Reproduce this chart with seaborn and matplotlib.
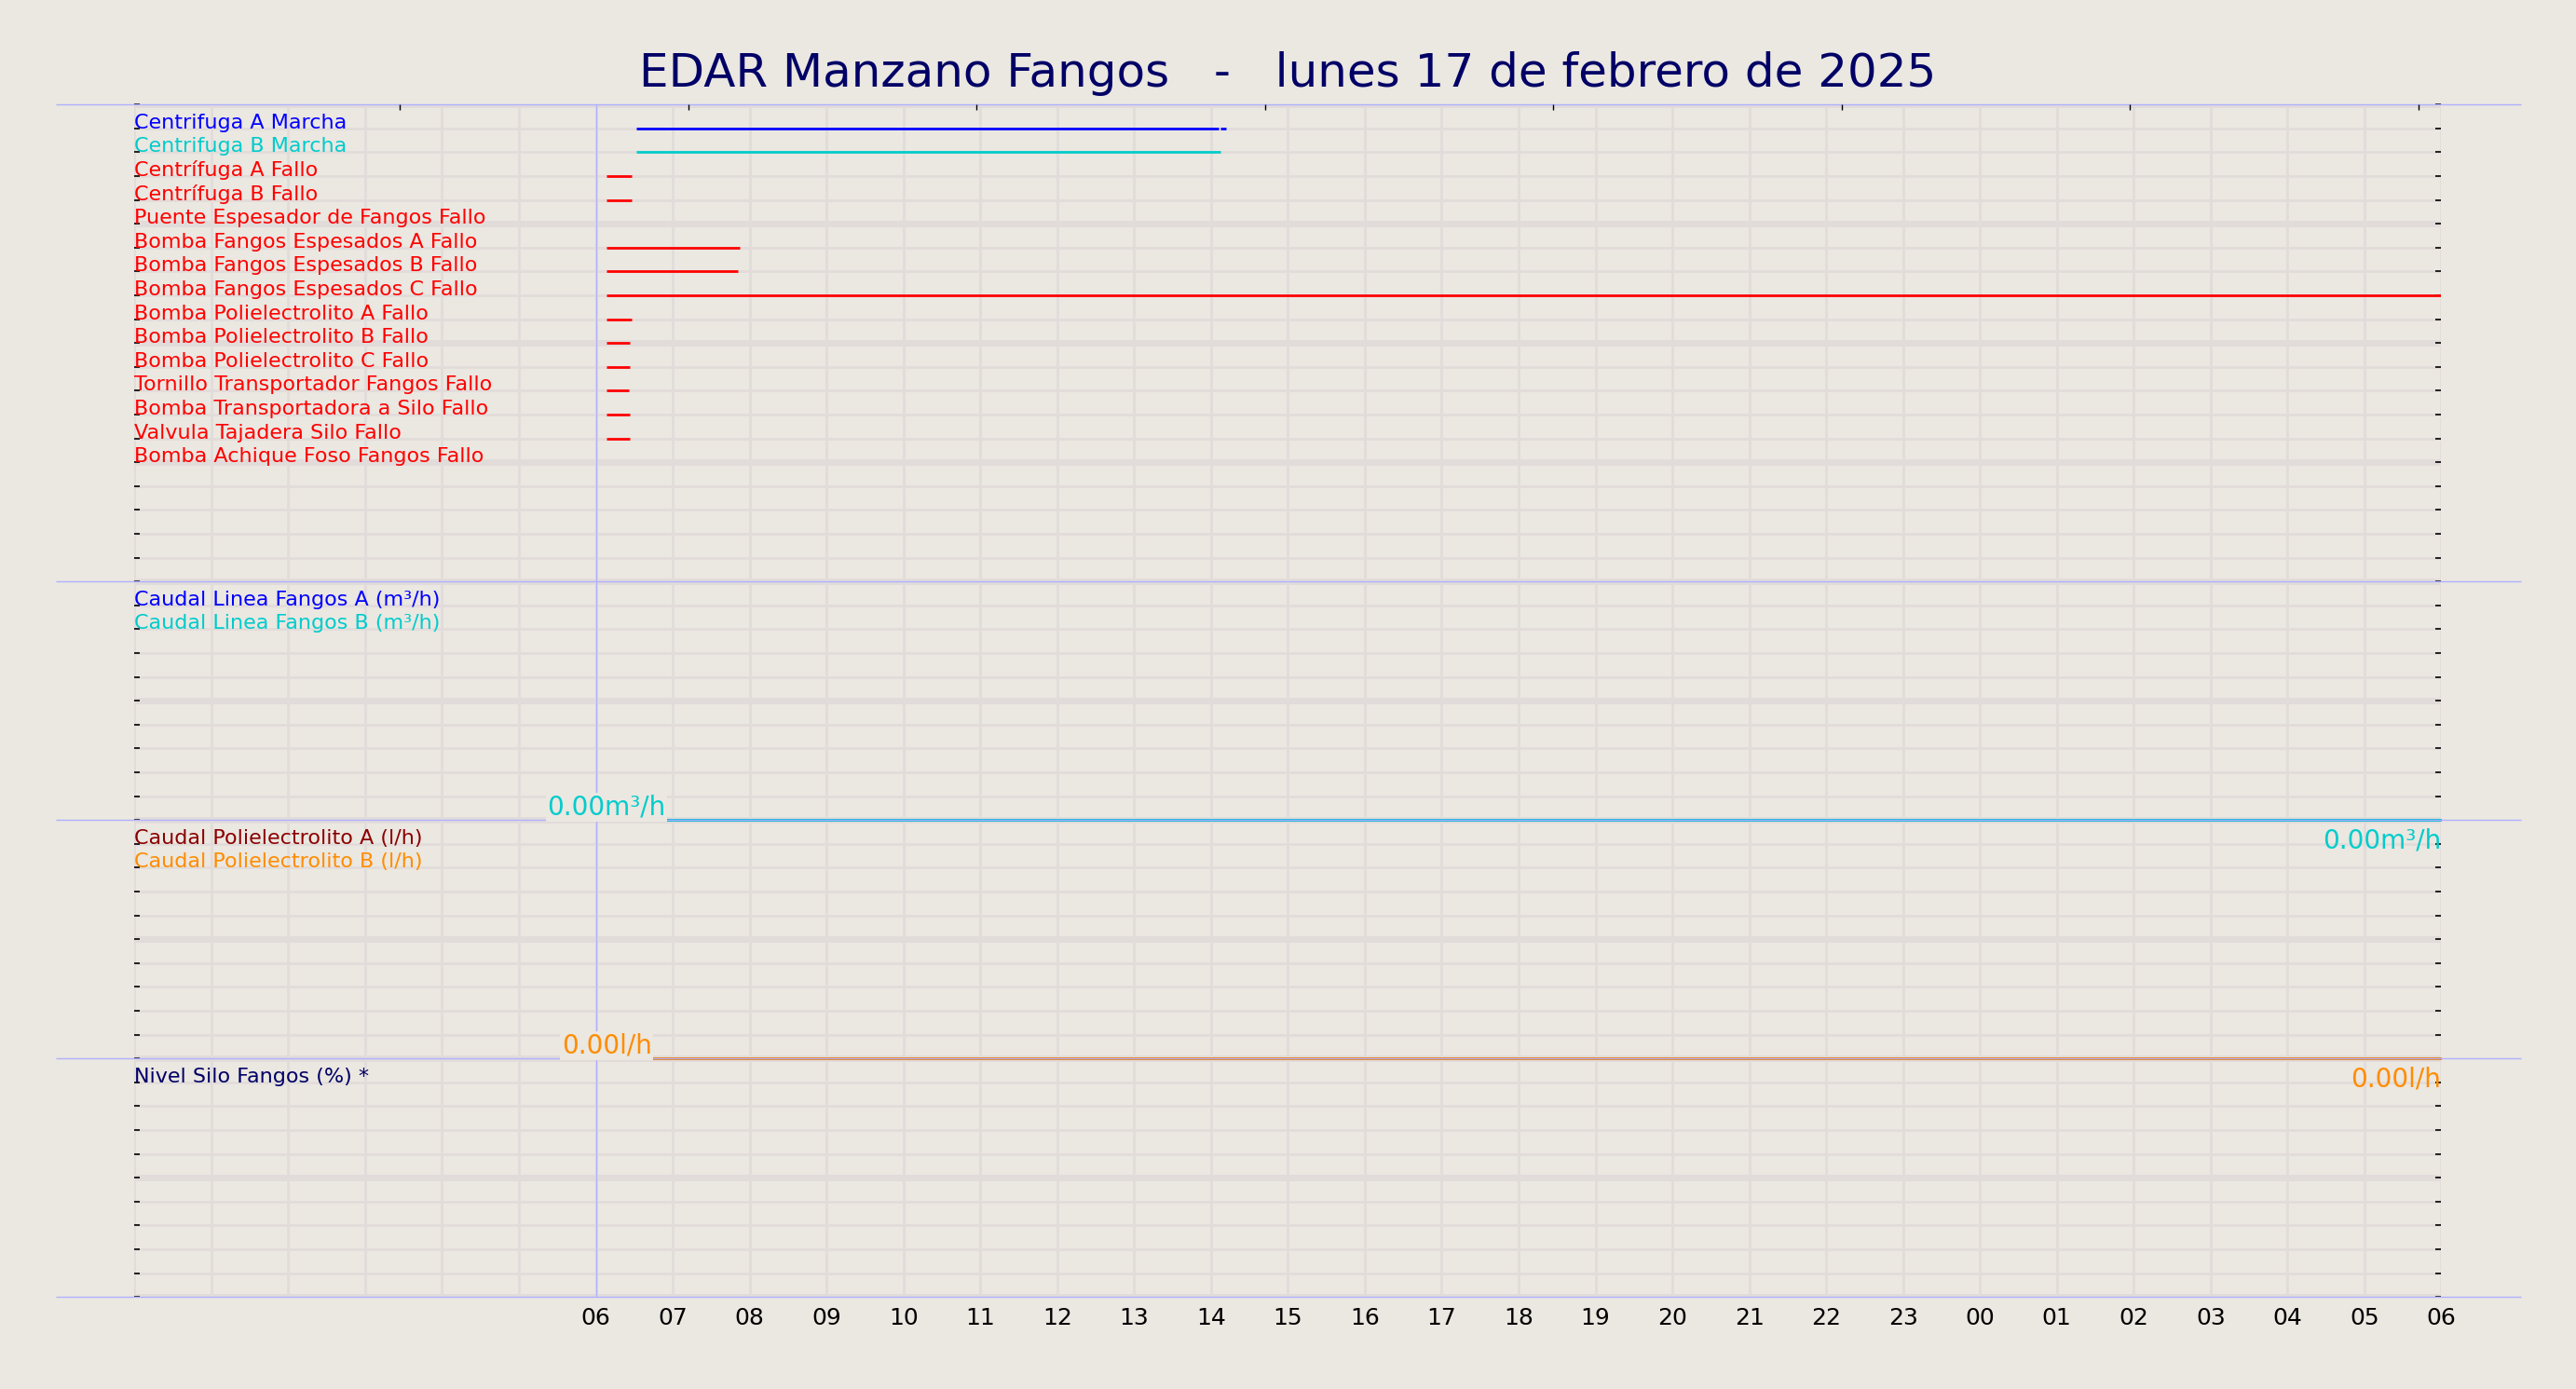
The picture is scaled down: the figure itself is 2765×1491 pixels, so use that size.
import pandas as pd
import matplotlib
matplotlib.use("Agg")
import matplotlib.pyplot as plt
from matplotlib.ticker import MultipleLocator
import seaborn as sns

FONDO = "#ebe7e1"
REJILLA = "#e1dcda"
SEPARADOR = "#b0b0ff"
AZUL_TITULO = "#000066"

TITULO = "EDAR Manzano Fangos   -   lunes 17 de febrero de 2025"

# eje x: horas desde las 00:00 del 17/02 hasta las 06:00 del 18/02
horas_eje = list(range(0, 31))
etiquetas_eje = ["" if h < 6 else f"{h % 24:02d}" for h in horas_eje]

# señales digitales del panel superior (una fila cada una)
senales = [
    "Centrifuga A Marcha",
    "Centrifuga B Marcha",
    "Centrífuga A Fallo",
    "Centrífuga B Fallo",
    "Puente Espesador de Fangos Fallo",
    "Bomba Fangos Espesados A Fallo",
    "Bomba Fangos Espesados B Fallo",
    "Bomba Fangos Espesados C Fallo",
    "Bomba Polielectrolito A Fallo",
    "Bomba Polielectrolito B Fallo",
    "Bomba Polielectrolito C Fallo",
    "Tornillo Transportador Fangos Fallo",
    "Bomba Transportadora a Silo Fallo",
    "Valvula Tajadera Silo Fallo",
    "Bomba Achique Foso Fangos Fallo",
]
colores_senales = ["#0000ff", "#00cccc"] + ["#ff0000"] * 13

# tramos activos de cada señal (indice de señal, hora inicio, hora fin)
tramo_senal = [0, 0, 1, 2, 3, 5, 6, 7, 8, 9, 10, 11, 12, 13]
tramo_inicio = [6.53, 14.12, 6.53, 6.14, 6.14, 6.14, 6.14, 6.14, 6.14, 6.14, 6.14, 6.14, 6.14, 6.14]
tramo_fin = [14.10, 14.19, 14.12, 6.47, 6.47, 7.87, 7.85, 30.0, 6.47, 6.44, 6.44, 6.43, 6.44, 6.44]

# señales analogicas
horas_caudal = [6.14, 30.0]
caudal_linea_a = [0.0, 0.0]
caudal_linea_b = [0.0, 0.0]
caudal_poli_a = [0.0, 0.0]
caudal_poli_b = [0.0, 0.0]

paneles = [
    (["Caudal Linea Fangos A (m³/h)", "Caudal Linea Fangos B (m³/h)"],
     ["#0000ff", "#00cccc"], [caudal_linea_a, caudal_linea_b], "m³/h"),
    (["Caudal Polielectrolito A (l/h)", "Caudal Polielectrolito B (l/h)"],
     ["#8b0000", "#ff8c00"], [caudal_poli_a, caudal_poli_b], "l/h"),
    (["Nivel Silo Fangos (%) *"], [AZUL_TITULO], [None], "%"),
]


def estilo_eje(ax, filas, invertir):
    ax.set_facecolor("none")
    ax.set_xlim(0, 30)
    if invertir:
        ax.set_ylim(filas, 0)
    else:
        ax.set_ylim(0, filas)
    ax.set_xticks(horas_eje)
    ax.set_xticklabels(etiquetas_eje)
    ax.yaxis.set_major_locator(MultipleLocator(5))
    ax.yaxis.set_minor_locator(MultipleLocator(1))
    ax.set_axisbelow(True)
    ax.grid(axis="x", which="major", color=REJILLA, lw=2)
    ax.grid(axis="y", which="major", color=REJILLA, lw=5)
    ax.grid(axis="y", which="minor", color=REJILLA, lw=2)
    ax.tick_params(axis="x", length=0, labelsize=18, pad=8, labelcolor="black")
    ax.tick_params(axis="y", which="both", left=True, right=True, direction="in",
                   length=4, width=1.2, color="black", labelleft=False)
    for sp in ax.spines.values():
        sp.set_visible(False)
    ax.set_xlabel("")
    ax.set_ylabel("")
    ax.axvline(6, color=SEPARADOR, lw=1, zorder=1.5)


sns.set_theme(style="white", rc={"figure.facecolor": FONDO, "savefig.facecolor": FONDO,
                                 "lines.solid_capstyle": "butt"})
plt.rcParams["font.family"] = ["DejaVu Sans"]

fig = plt.figure(figsize=(27.65, 14.91), dpi=100)
gs = fig.add_gridspec(4, 1, height_ratios=[20, 10, 10, 10], hspace=0,
                      left=0.0522, right=0.9477, top=0.9247, bottom=0.0662)

ext_izq, ext_der = -0.034, 1.0346

# panel digital
ax1 = fig.add_subplot(gs[0])
ax1.set_zorder(4)
filas = []
for k, (s, a, b) in enumerate(zip(tramo_senal, tramo_inicio, tramo_fin)):
    for h in (a, b):
        filas.append({"tramo": k, "senal": senales[s], "hora": h, "fila": s + 1})
df_dig = pd.DataFrame(filas)
sns.lineplot(data=df_dig, x="hora", y="fila", hue="senal", units="tramo", estimator=None,
             palette=dict(zip(senales, colores_senales)), legend=False, sort=False,
             lw=2, ax=ax1)
estilo_eje(ax1, 20, True)
ax1.tick_params(axis="x", labelbottom=False)
for i, (nombre, color) in enumerate(zip(senales, colores_senales)):
    ax1.text(0, i + 1, nombre, color=color, fontsize=16, ha="left", va="baseline", zorder=3)
ax1.axhline(0, ext_izq, ext_der, color=SEPARADOR, lw=1, clip_on=False, zorder=2.5)
ax1.axhline(20, ext_izq, ext_der, color=SEPARADOR, lw=1, clip_on=False, zorder=2.5)

# marcas superiores
ax_top = ax1.twiny()
ax_top.set_zorder(4)
ax_top.set_xlim(-0.92, 7.08)
ax_top.set_xticks(range(8))
ax_top.tick_params(axis="x", top=True, bottom=False, direction="in", length=4.5, width=1,
                   color="black", labeltop=False, labelbottom=False)
for sp in ax_top.spines.values():
    sp.set_visible(False)

# paneles analogicos
for p, (nombres, colores, valores, unidad) in enumerate(paneles):
    ax = fig.add_subplot(gs[p + 1], sharex=ax1)
    ax.set_zorder(3 - p)
    serie_df = []
    for nombre, vals in zip(nombres, valores):
        if vals is None:
            continue
        for h, v in zip(horas_caudal, vals):
            serie_df.append({"serie": nombre, "hora": h, "valor": v})
    if serie_df:
        df = pd.DataFrame(serie_df)
        sns.lineplot(data=df, x="hora", y="valor", hue="serie", hue_order=nombres,
                     palette=dict(zip(nombres, colores)), legend=False, sort=False,
                     lw=2, ax=ax)
        for ln in ax.get_lines():
            ln.set_clip_on(False)
    estilo_eje(ax, 10, False)
    if p < 2:
        ax.tick_params(axis="x", labelbottom=False)
    for i, (nombre, color) in enumerate(zip(nombres, colores)):
        ax.text(0, 9 - i, nombre, color=color, fontsize=16, ha="left", va="baseline", zorder=3)
    # las etiquetas de valor de ambas series coinciden; solo se ve la de arriba
    color, vals = colores[-1], valores[-1]
    if vals is not None:
        ax.text(horas_caudal[0], vals[0], f"{vals[0]:.2f}{unidad}", color=color, fontsize=20,
                ha="center", va="bottom", zorder=5,
                bbox=dict(boxstyle="square,pad=0.05", fc=FONDO, ec="none"))
        ax.annotate(f"{vals[-1]:.2f}{unidad}", xy=(horas_caudal[-1], vals[-1]),
                    xytext=(0, -6), textcoords="offset points", ha="right", va="top",
                    color=color, fontsize=20, zorder=5, annotation_clip=False)
    ax.axhline(0, ext_izq, ext_der, color=SEPARADOR, lw=1, clip_on=False, zorder=2.5)

fig.suptitle(TITULO, x=0.5, y=0.947, va="center", fontsize=36, color=AZUL_TITULO)

fig.savefig("out.png", dpi=100, facecolor=FONDO)
